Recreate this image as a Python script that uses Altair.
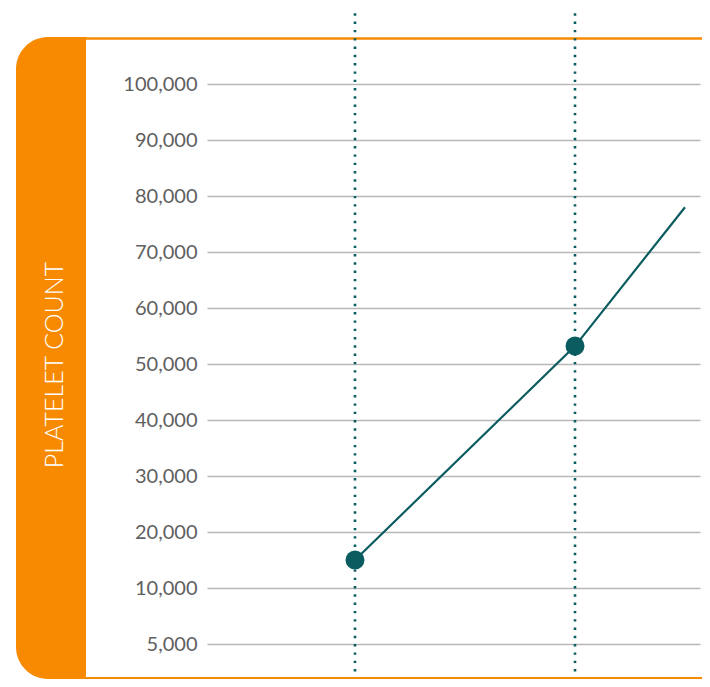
import altair as alt
import pandas as pd

# ---- data ----
days = [1, 2, 2.5]
platelet_counts = [15000, 53200, 78000]
has_marker = [True, True, False]
y_tick_values = [0, 10000, 20000, 30000, 40000, 50000, 60000, 70000, 80000, 90000, 100000]
y_title = "PLATELET COUNT"

ORANGE = "#F78A00"
TEAL = "#0B5C60"
GRID = "#B8B8B8"
LABEL = "#606060"

df = pd.DataFrame({"day": days, "count": platelet_counts, "marked": has_marker})

x_scale = alt.Scale(domain=[0.3273, 2.5682], nice=False, zero=False)
y_scale = alt.Scale(domain=[0, 100000], nice=False, zero=True)

base = alt.Chart(df)

one = pd.DataFrame({"a": [0]})

frame = alt.Chart(one).mark_rect(
    color=ORANGE, cornerRadiusTopLeft=32, cornerRadiusBottomLeft=32
).encode(x=alt.value(-191), x2=alt.value(-121), y=alt.value(-47), y2=alt.value(595))

top_line = alt.Chart(one).mark_rule(color=ORANGE, strokeWidth=2.5).encode(
    x=alt.value(-122), x2=alt.value(495), y=alt.value(-45.5)
)
bottom_line = alt.Chart(one).mark_rule(color=ORANGE, strokeWidth=2).encode(
    x=alt.value(-122), x2=alt.value(495), y=alt.value(594)
)

title = alt.Chart(one).mark_text(
    angle=270, color="white", fontSize=25, fontWeight=300, font="Lato",
    align="center", baseline="middle"
).encode(x=alt.value(-152), y=alt.value(281), text=alt.value(y_title))

vrules = base.transform_filter("datum.marked").mark_rule(
    color=TEAL, strokeWidth=2.6, strokeDash=[2.4, 5.9]
).encode(
    x=alt.X("day:Q", scale=x_scale, axis=None),
    y=alt.value(-79),
    y2=alt.value(588),
)

line = base.mark_line(color=TEAL, strokeWidth=2.2).encode(
    x=alt.X("day:Q", scale=x_scale, axis=None),
    y=alt.Y(
        "count:Q",
        scale=y_scale,
        axis=alt.Axis(
            values=y_tick_values,
            labelExpr="datum.value == 0 ? '5,000' : format(datum.value, ',')",
            grid=True,
            gridColor=GRID,
            gridWidth=1.3,
            domain=False,
            ticks=False,
            title=None,
            labelFont="Lato",
            labelFontSize=20,
            labelColor=LABEL,
            labelPadding=10,
            labelAlign="right",
            labelBaseline="middle",
        ),
    ),
)

points = base.transform_filter("datum.marked").mark_circle(
    color=TEAL, size=360, opacity=1
).encode(
    x=alt.X("day:Q", scale=x_scale, axis=None),
    y=alt.Y("count:Q", scale=y_scale),
)

chart = alt.layer(frame, top_line, bottom_line, title, vrules, line, points).properties(
    width=493,
    height=560,
    autosize=alt.AutoSizeParams(type="none"),
    padding={"left": 199, "top": 76, "right": 2, "bottom": 35},
).configure_view(stroke=None)

chart.save("out.html", embed_options={"renderer": "svg", "actions": False})
